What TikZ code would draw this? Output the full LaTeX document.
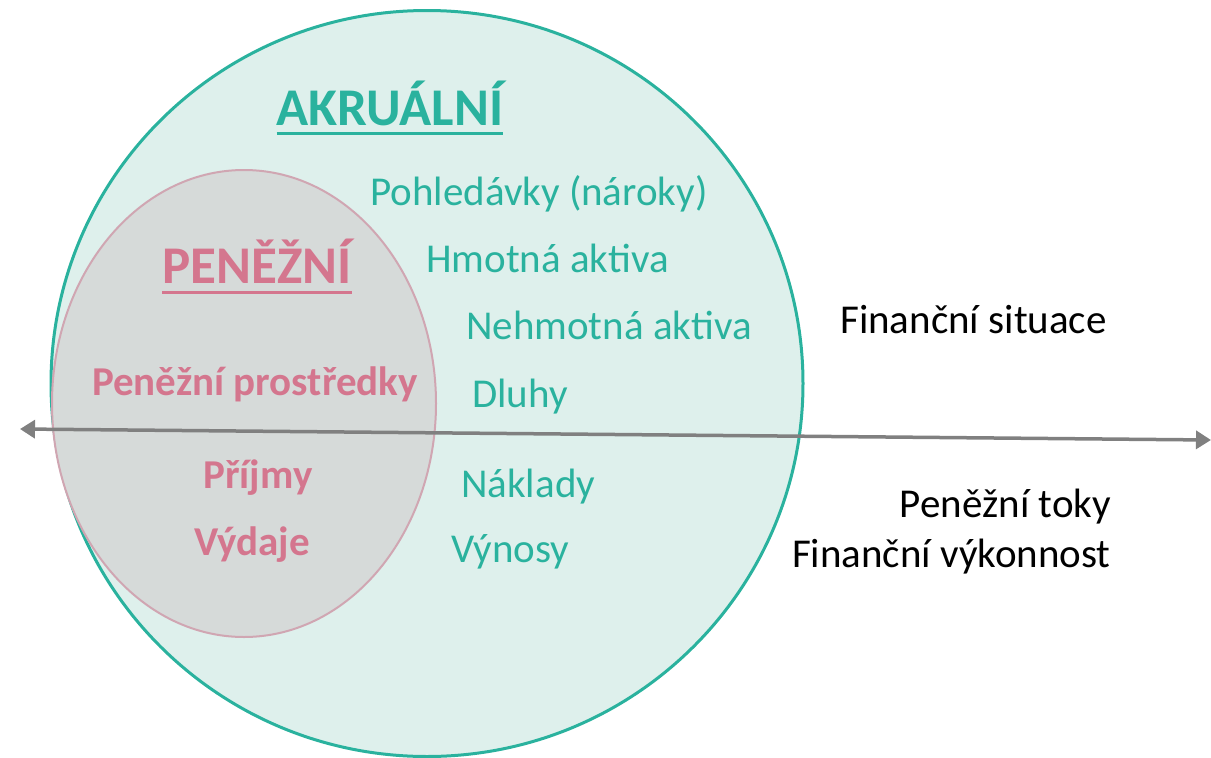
\documentclass[tikz,border=0pt]{standalone}
\usepackage{fontspec}
\setmainfont{Carlito}
\usetikzlibrary{shapes.geometric,arrows.meta}

\definecolor{akrcolor}{RGB}{42,178,158}
\definecolor{akrfill}{RGB}{222,240,236}
\definecolor{pencolor}{RGB}{212,118,142}
\definecolor{penfill}{RGB}{214,218,217}
\definecolor{penline}{RGB}{208,166,178}
\definecolor{axiscolor}{RGB}{128,128,128}

\begin{document}
\begin{tikzpicture}[x=1pt,y=-1pt,
	zone/.style={ellipse,inner sep=0pt},
	label/.style={inner sep=0pt,font=\fontsize{41}{49}\selectfont},
	akrtext/.style={label,text=akrcolor},
	pentext/.style={label,text=pencolor,font=\fontsize{41}{49}\selectfont\bfseries},
	heading/.style={inner sep=0pt,font=\fontsize{53}{61}\selectfont\bfseries}]
	\useasboundingbox (0,0) rectangle (1211,758);

	\node[zone,draw=akrcolor,line width=3pt,fill=akrfill,minimum width=752pt,minimum height=746pt] (akrualni) at (427,383.5) {};
	\node[zone,draw=penline,line width=2pt,fill=penfill,minimum width=384pt,minimum height=467pt] (penezni) at (244,403.5) {};

	\coordinate (axisleft) at (20,429);
	\coordinate (axisright) at (1211,440);
	\draw[axiscolor,line width=3.5pt,{Triangle[length=15pt,width=18pt]}-{Triangle[length=15pt,width=18pt]}] (axisleft) -- (axisright);

	\node[heading,text=akrcolor,anchor=base] (akrtitle) at (390,125) {AKRUÁLNÍ};
	\draw[akrcolor,line width=3pt] ([yshift=-8pt]akrtitle.base west) -- ([yshift=-8pt]akrtitle.base east);
	\node[heading,text=pencolor,anchor=base] (pentitle) at (257,283) {PENĚŽNÍ};
	\draw[pencolor,line width=3pt] ([yshift=-9pt]pentitle.base west) -- ([yshift=-9pt]pentitle.base east);

	\node[akrtext,anchor=base west] (pohledavky) at (370,205) {Pohledávky (nároky)};
	\node[akrtext,anchor=base west] (hmotna) at (426,272) {Hmotná aktiva};
	\node[akrtext,anchor=base west] (nehmotna) at (466,339) {Nehmotná aktiva};
	\node[akrtext,anchor=base west] (dluhy) at (472,407) {Dluhy};
	\node[akrtext,anchor=base west] (naklady) at (461,497) {Náklady};
	\node[akrtext,anchor=base west] (vynosy) at (451,562) {Výnosy};

	\node[pentext,anchor=base] (prostredky) at (255,395) {Peněžní prostředky};
	\node[pentext,anchor=base] (prijmy) at (258,488) {Příjmy};
	\node[pentext,anchor=base] (vydaje) at (252,555) {Výdaje};

	\node[label,anchor=base west] (situace) at (840,333) {Finanční situace};
	\node[label,anchor=base east] (toky) at (1111,517) {Peněžní toky};
	\node[label,anchor=base east] (vykonnost) at (1111,567) {Finanční výkonnost};
\end{tikzpicture}
\end{document}
